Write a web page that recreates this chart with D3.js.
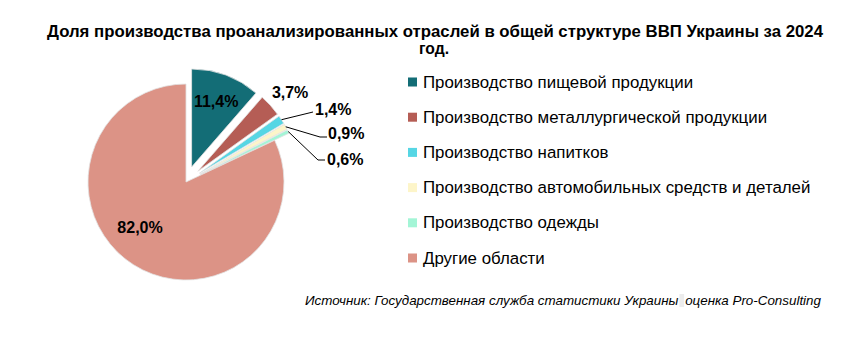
<!DOCTYPE html>
<html><head><meta charset="utf-8">
<script src="https://cdn.jsdelivr.net/npm/d3@7"></script>
<style>
html,body{margin:0;padding:0;background:#fff;}
svg{display:block;font-family:"Liberation Sans",Arial,sans-serif;}
</style></head>
<body>
<svg id="chart" width="865" height="337"></svg>
<script>
const titleLines = ["Доля производства проанализированных отраслей в общей структуре ВВП Украины за 2024", "год."];
const categories = ["Производство пищевой продукции","Производство металлургической продукции","Производство напитков","Производство автомобильных средств и деталей","Производство одежды","Другие области"];
const values = [11.4, 3.7, 1.4, 0.9, 0.6, 82.0];
const labels = ["11,4%","3,7%","1,4%","0,9%","0,6%","82,0%"];
const colors = ["#136d76","#b55d55","#56d6e4","#fdf5c9","#a3f5d6","#dc9386"];
const exploded = [true,true,true,true,true,false];
const sourcePart1 = "Источник: Государственная служба статистики Украины";
const sourcePart2 = "оценка Pro-Consulting";

const svg = d3.select("#chart");

function fitWidth(sel, target){
  const w = sel.node().getComputedTextLength();
  const fs = parseFloat(sel.attr("font-size"));
  sel.attr("font-size", (fs*target/w).toFixed(2));
}

// Title (condensed look: larger size squeezed to the reference width)
const titleFS = 16.5;
const t1 = svg.append("text").attr("x", 435).attr("y", 36.5).attr("text-anchor","middle")
  .attr("font-size",titleFS).attr("font-weight","bold").attr("fill","#000")
  .attr("textLength", 776).attr("lengthAdjust","spacingAndGlyphs").text(titleLines[0]);
const w2 = 30;
svg.append("text").attr("x", 434).attr("y", 54).attr("text-anchor","middle")
  .attr("font-size",titleFS).attr("font-weight","bold").attr("fill","#000")
  .attr("textLength", w2).attr("lengthAdjust","spacingAndGlyphs").text(titleLines[1]);

// Pie
const cx = 186, cy = 182, R = 98, explodeDist = 16;
const pie = d3.pie().sort(null).value(d => d)(values);
const arc = d3.arc().innerRadius(0).outerRadius(R);
const g = svg.append("g").attr("transform", `translate(${cx},${cy})`);

function offset(d, i){
  if(!exploded[i]) return [0,0];
  const a = (d.startAngle + d.endAngle)/2;
  return [explodeDist*Math.sin(a), -explodeDist*Math.cos(a)];
}

g.selectAll("path.slice").data(pie).join("path").attr("class","slice")
  .attr("d", arc)
  .attr("transform", (d,i) => { const o = offset(d,i); return `translate(${o[0]},${o[1]})`; })
  .attr("fill", (d,i) => colors[i])
  .attr("stroke", "#e2e2e2").attr("stroke-width", 0.8).attr("stroke-linejoin","round");

// Labels
const lblFont = 16;
function polar(a, r, o){ return [o[0] + r*Math.sin(a), o[1] - r*Math.cos(a)]; }

pie.forEach((d,i) => {
  const o = offset(d,i);
  const a = (d.startAngle + d.endAngle)/2;
  if(i === 0){
    const p = polar(a, 70, o);
    g.append("text").attr("x",p[0]).attr("y",p[1]).attr("text-anchor","middle")
      .attr("dominant-baseline","central").attr("font-size",lblFont).attr("font-weight","bold").text(labels[i]);
  } else if(i === 1){
    const p = polar(a + 0.035, 121, o);
    g.append("text").attr("x",p[0]).attr("y",p[1]).attr("text-anchor","middle")
      .attr("dominant-baseline","central").attr("font-size",lblFont).attr("font-weight","bold").text(labels[i]);
  } else if(i === 5){
    const p = polar(a + 0.22, 65, o);
    g.append("text").attr("x",p[0]).attr("y",p[1]).attr("text-anchor","middle")
      .attr("dominant-baseline","central").attr("font-size",lblFont).attr("font-weight","bold").text(labels[i]);
  } else {
    const layout = {2:{ex:127, ey:-70, hx:127, tx:129, ty:-73},
                    3:{ex:134, ey:-45, hx:141, tx:142, ty:-49},
                    4:{ex:132, ey:-22, hx:139, tx:141, ty:-23}}[i];
    const s = polar(a, R, o);
    g.append("polyline").attr("points", `${s[0]},${s[1]} ${layout.ex},${layout.ey} ${layout.hx},${layout.ey}`)
      .attr("fill","none").attr("stroke","#000").attr("stroke-width",1);
    g.append("text").attr("x",layout.tx).attr("y",layout.ty)
      .attr("dominant-baseline","central").attr("font-size",lblFont).attr("font-weight","bold").text(labels[i]);
  }
});

// Legend
const legX = 408, legY0 = 82, legStep = 35.2;
const leg = svg.append("g");
categories.forEach((c,i) => {
  const y = legY0 + i*legStep;
  leg.append("rect").attr("x", legX).attr("y", y-4.5).attr("width",9).attr("height",9).attr("fill",colors[i]);
  leg.append("text").attr("class","legtxt").attr("x", legX+15).attr("y", y)
    .attr("dominant-baseline","central").attr("font-size",15).attr("fill","#000").text(c);
});
const longest = leg.selectAll("text.legtxt").filter((d,i) => i === 3);
const lw = longest.node().getComputedTextLength();
const lfs = (15*388/lw).toFixed(2);
leg.selectAll("text.legtxt").attr("font-size", lfs);

// Source
const src = svg.append("text").attr("x", 305).attr("y", 304.5).attr("font-size",12)
  .attr("font-style","italic").attr("fill","#000");
src.append("tspan").text(sourcePart1);
src.append("tspan").text("\u2002");
src.append("tspan").text(sourcePart2);
fitWidth(src, 516);
const p1 = src.node().getSubStringLength(0, sourcePart1.length);
const gw = src.node().getSubStringLength(sourcePart1.length, 1);
svg.insert("rect", "text").attr("x", 305 + p1 + 1).attr("y", 294).attr("width", Math.max(gw-2,4)).attr("height", 13).attr("fill","#ececec");
</script>
</body></html>
